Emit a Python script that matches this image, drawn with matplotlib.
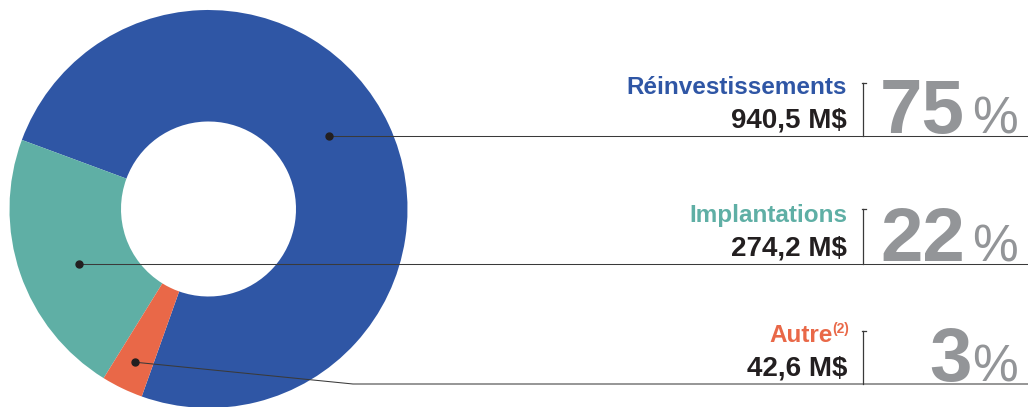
import numpy as np
import matplotlib
matplotlib.use("Agg")
import matplotlib.pyplot as plt

# data
labels = ["Réinvestissements", "Implantations", "Autre"]
amounts = [940.5, 274.2, 42.6]
amount_text = ["940,5 M$", "274,2 M$", "42,6 M$"]
pct_text = ["75", "22", "3"]
colors = ["#2f56a5", "#5fafa5", "#e96848"]

# layout (pixels, y measured from top)
W, H = 1028, 407
cx, cy = 208.5, 209
r_out, r_in = 199, 87.5
row_y = [136, 264, 384]
num_x = [965, 965, 972]
sep_x = 863
sep_top = [83, 209, 331]
dark = "#231f20"
grey = "#939598"
line_c = "#3a3a3a"
fam = ["Liberation Sans", "DejaVu Sans"]
fam_big = ["Liberation Sans Narrow", "Liberation Sans", "DejaVu Sans"]


def Y(py):
    return H - py


fig = plt.figure(figsize=(W / 100, H / 100), dpi=100, facecolor="white")
ax = fig.add_axes([0, 0, 1, 1])

wedges, _ = ax.pie(amounts, colors=colors, startangle=250.4, counterclock=True,
                   radius=r_out, center=(cx, Y(cy)),
                   wedgeprops=dict(width=r_out - r_in, linewidth=0))
ax.set_xlim(0, W)
ax.set_ylim(0, H)
ax.set_aspect("equal")
ax.axis("off")

# leader lines and dots
r_dot = 141
for i, w in enumerate(wedges):
    ly = row_y[i]
    if i == 2:
        mid = np.deg2rad((w.theta1 + w.theta2) / 2)
        dx, dy = cx + 170 * np.cos(mid), Y(cy) + 170 * np.sin(mid)
        ax.plot([dx, 353, W], [dy, Y(ly), Y(ly)], color=line_c, lw=0.75, zorder=3)
    else:
        off = np.sqrt(r_dot ** 2 - (ly - cy) ** 2)
        dx = cx + off if i == 0 else cx - off
        dy = Y(ly)
        ax.plot([dx, W], [dy, dy], color=line_c, lw=0.75, zorder=3)
    ax.plot(dx, dy, "o", color=dark, ms=5, zorder=4)

    # separator
    ax.plot([sep_x, sep_x], [Y(sep_top[i]), Y(ly)], color=line_c, lw=0.9)
    ax.plot([sep_x - 1.5, sep_x + 3], [Y(sep_top[i]), Y(sep_top[i])], color=line_c, lw=0.9)

    # texts
    lab_x = 847 if i < 2 else 833
    ax.text(lab_x, Y(ly - 42), labels[i], ha="right", va="baseline", color=colors[i],
            fontsize=17.5, fontweight="bold", family=fam)
    if i == 2:
        ax.text(832, Y(ly - 51), "(2)", ha="left", va="baseline", color=colors[i],
                fontsize=10, fontweight="bold", family=fam)
    ax.text(847, Y(ly - 9), amount_text[i], ha="right", va="baseline", color=dark,
            fontsize=20, fontweight="bold", family=fam)
    ax.text(num_x[i], Y(ly - 3), pct_text[i], ha="right", va="baseline", color=grey,
            fontsize=55, fontweight="bold", family=fam_big)
    ax.text(1018, Y(ly - 3), "%", ha="right", va="baseline", color=grey,
            fontsize=37, family=fam)

fig.savefig("out.png", dpi=100, facecolor="white")
